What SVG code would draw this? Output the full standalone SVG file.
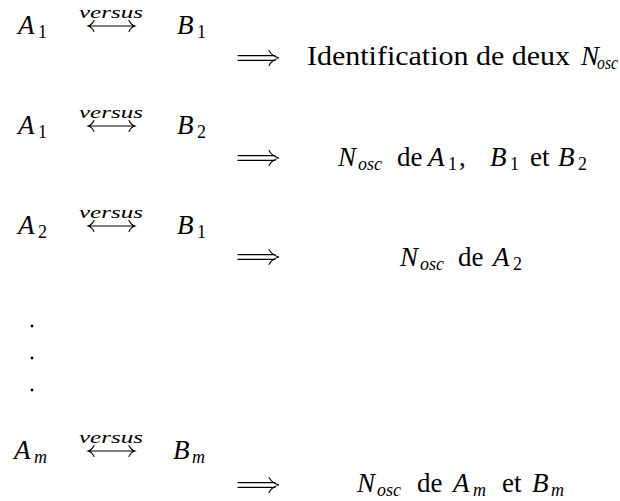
<svg xmlns="http://www.w3.org/2000/svg" width="620" height="501" viewBox="0 0 620 501" font-family="'Liberation Serif', serif">
<style>
text{font-family:"Liberation Serif","Times New Roman",serif;fill:#000}
.m{font-size:27px;font-style:italic}
.r{font-size:27px}
.s{font-size:18px;font-style:italic}
.d{font-size:18px}
.v{font-size:17px;font-style:italic}
.ln{fill:none;stroke:#000;stroke-width:1.1;stroke-linecap:round}
</style>
<defs>
<g id="lr">
<path class="ln" d="M88 0H135M94 -5.5Q92 -1.2 88 0Q92 1.2 94 5.5M129 -5.5Q131 -1.2 135 0Q131 1.2 129 5.5"/>
</g>
<g id="imp">
<path class="ln" d="M238 -2.4H275M238 2.4H275M269 -7.5Q272 -1.8 279 0Q272 1.8 269 7.5"/>
</g>
</defs>
<rect width="620" height="501" fill="#fff"/>

<g id="row1-pair">
<text class="m" x="18" y="34">A</text><text class="d" x="38" y="38">1</text>
<text class="v" x="79" y="18" textLength="64" lengthAdjust="spacingAndGlyphs">versus</text>
<text class="m" x="177" y="34">B</text><text class="d" x="197" y="38">1</text>
</g>
<g id="row1-result">
<text class="r" x="307" y="65" textLength="263" lengthAdjust="spacingAndGlyphs">Identification de deux</text>
<text class="m" x="581" y="65">N</text><text class="s" x="597" y="69" textLength="21" lengthAdjust="spacingAndGlyphs">osc</text>
</g>

<g id="row2-pair">
<text class="m" x="18" y="134">A</text><text class="d" x="38" y="138">1</text>
<text class="v" x="79" y="118" textLength="64" lengthAdjust="spacingAndGlyphs">versus</text>
<text class="m" x="177" y="134">B</text><text class="d" x="197" y="138">2</text>
</g>
<g id="row2-result">
<text class="m" x="338" y="166">N</text><text class="s" x="358" y="170">osc</text>
<text class="r" x="397" y="166">de</text>
<text class="m" x="428" y="166">A</text><text class="d" x="448" y="170">1</text><text class="r" x="459" y="166">,</text>
<text class="m" x="490" y="166">B</text><text class="d" x="510" y="170">1</text>
<text class="r" x="530" y="166">et</text>
<text class="m" x="558" y="166">B</text><text class="d" x="578" y="170">2</text>
</g>

<g id="row3-pair">
<text class="m" x="18" y="234">A</text><text class="d" x="38" y="238">2</text>
<text class="v" x="79" y="218" textLength="64" lengthAdjust="spacingAndGlyphs">versus</text>
<text class="m" x="177" y="234">B</text><text class="d" x="197" y="238">1</text>
</g>
<g id="row3-result">
<text class="m" x="400" y="266">N</text><text class="s" x="420" y="270">osc</text>
<text class="r" x="458" y="266">de</text>
<text class="m" x="493" y="266">A</text><text class="d" x="513" y="270">2</text>
</g>

<g id="ellipsis">
<circle cx="32" cy="326" r="1.4"/>
<circle cx="32" cy="358" r="1.4"/>
<circle cx="32" cy="390" r="1.4"/>
</g>

<g id="row4-pair">
<text class="m" x="14" y="459">A</text><text class="s" x="34" y="463">m</text>
<text class="v" x="79" y="443" textLength="64" lengthAdjust="spacingAndGlyphs">versus</text>
<text class="m" x="173" y="459">B</text><text class="s" x="192" y="463">m</text>
</g>
<g id="row4-result">
<text class="m" x="357" y="492">N</text><text class="s" x="377" y="496">osc</text>
<text class="r" x="417" y="492">de</text>
<text class="m" x="453" y="492">A</text><text class="s" x="473" y="496">m</text>
<text class="r" x="502" y="492">et</text>
<text class="m" x="532" y="492">B</text><text class="s" x="551" y="496">m</text>
</g>

<g id="connectors">
<use href="#lr" y="26"/>
<use href="#lr" y="126"/>
<use href="#lr" y="226"/>
<use href="#lr" y="451"/>
<use href="#imp" y="58"/>
<use href="#imp" y="158"/>
<use href="#imp" y="257"/>
<use href="#imp" y="485"/>
</g>
</svg>
